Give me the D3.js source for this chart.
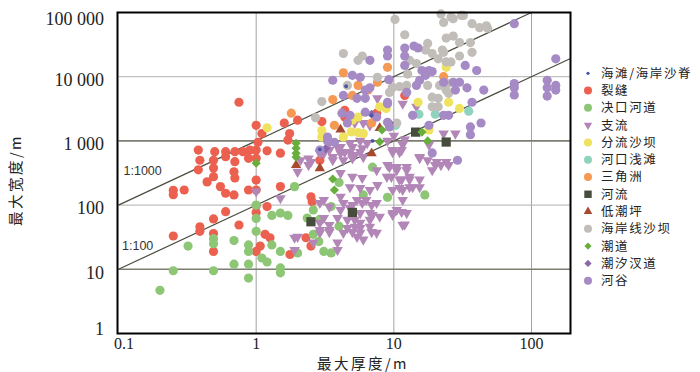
<!DOCTYPE html>
<html><head><meta charset="utf-8">
<script src="https://cdn.jsdelivr.net/npm/d3@7"></script>
<style>body{margin:0;background:#fff}svg{display:block}</style>
</head><body>
<svg id="c" width="700" height="372"></svg>
<script>
// ---------- categories & styles ----------
const categories = ["海滩/海岸沙脊","裂缝","决口河道","支流","分流沙坝","河口浅滩","三角洲","河流","低潮坪","海岸线沙坝","潮道","潮汐汊道","河谷"];
const colors = ["#4b55a6","#ec6050","#8dc776","#b386b8","#efe25e","#8fd3bf","#f59a55","#474d3d","#a8492e","#c1bdb9","#68ae3c","#8867ad","#a58ac6"];
const shapes = ["dot","circle","circle","triDown","circle","circle","circle","square","triUp","circle","diamond","diamond","circle"];

// ---------- axes ----------
const xTicks = [0.1, 1, 10, 100];
const xTickLabels = ["0.1", "1", "10", "100"];
const yTicks = [1, 10, 100, 1000, 10000, 100000];
const yTickLabels = ["1", "10", "100", "1 000", "10 000", "100 000"];
const ratios = [1000, 100];
const ratioLabels = ["1:1000", "1:100"];

// ---------- data: [maximum thickness (m), maximum width (m)] ----------
const beachRidge = [[4.5,7100],[2.9,740],[7,1000],[6.9,2500]];
const fracture = [[0.75,4000],[1,1750],[1.1,1300],[1.6,1900],[1.75,1300],[1.7,1030],[2,2100],
  [0.38,720],[0.39,500],[0.5,680],[0.49,500],[0.6,680],[0.6,566],[0.7,680],[0.8,680],[0.7,475],
  [1,720],[1.03,950],[1,535],[0.88,535],[1.2,700],[1.5,645],[0.9,720],
  [0.38,355],[0.49,380],[0.49,277],[0.69,330],[0.7,265],[0.44,230],[0.55,194],[0.6,153],[0.69,144],
  [0.25,170],[0.25,145],[0.3,172],[0.88,172],[1,245],[1,172],[1.5,194],
  [1.2,95],[0.6,79],[0.49,61],[0.39,46],[0.39,39],[0.25,33],[0.49,36],[0.49,19],[0.75,49],[1,98],[1,77],
  [1.16,35],[1.26,31],[1.07,23],[1,19],[1.76,17],[2.3,31],[2.5,23],[2.55,113],[2.5,135],
  [3,2000],[2.9,500],[12,5100],[7.5,2700],[4.4,3000],[4.4,2350]];
const crevasse = [[1,100],[1,62],[1,39],[1.3,69],[1.5,75],[1.7,69],[1.9,194],[2.35,63],[2.6,84],
  [0.32,23],[0.49,30],[0.49,25],[0.69,28],[0.88,24],[0.88,19],[1.3,24],[1.5,19],[1.1,15],[1.2,13],[2,18],
  [0.69,12],[0.88,12],[0.25,9.5],[0.49,9.5],[0.88,7.3],[1.5,10.5],[1.5,8.8],[0.2,4.7],
  [7,390],[4,225],[9,132],[16.8,144],[6,144],[3.5,95],[2.9,60],[4,47],[2.6,35],[2.85,27],[3.1,19],[3.5,18]];
const tributary = [[3.4,930],[3.9,800],[4.4,670],[5,800],[5.9,770],[5.2,600],[4.3,500],[3.6,560],[3.1,640],[2.5,470],[2,330],
  [9.8,670],[11.4,720],[15.4,540],[20.5,470],[24,470],[19,350],[9.3,390],[10.5,350],[12.4,350],[8.9,275],[11,250],[13,250],[15.4,250],
  [9.8,172],[11.6,172],[13.7,190],[11.6,120],[9.8,75],[12.4,75],[12,50],
  [4.1,315],[5,275],[5.9,265],[7.5,350],[4.8,190],[5.7,185],[6.7,172],[7.6,205],[4.1,135],[5.4,120],[6.3,120],[7.5,108],
  [3.1,120],[3.4,94],[4.1,84],[4.8,90],[5.7,75],[6.7,75],[7.9,66],[5.7,53],[6.7,46],[4.6,44],[3.4,41],[2.9,53],[2,32],[5.4,32],[7.5,37],
  [2.9,108],[4.3,108],[5,100],[5.9,108],[6.9,100],[7,70],[6.7,59],[9.8,70],[11.4,78],[10.5,84],[11.6,49],[3.4,49],[3.4,38],
  [2.9,41],[2.9,37],[4.3,37],[5,38],[5.7,37],[6,29],[6.9,38],[3.9,26],[3.9,20],[1.9,31],[5.2,59],[4.6,59],[3.9,63],[5.2,46],[5.7,44],[3.1,63],
  [1,163],[1.5,128],[1.9,20],[2.6,26],
  [9.8,6500],[7.6,4600],[11.6,3800],[14.6,3400],
  [23,1300],[28,1300],[11.6,870],[18,870],[9.8,720],[11,670],[15.4,560],[17.6,500],[20,420],[22,420],[25,420],
  [9,420],[10.5,390],[12.4,390],[9.6,275],[11.4,250],[13,275],[15.4,190],[13,190],[11,185],
  [2.4,530],[2.1,500],[2.4,420],[2.9,640],[3.4,720],[4.1,640],[4.8,670],[5.7,670],[3.6,500],[5,535],[6,560],
  [4.1,800],[4.8,920],[5.7,1000],[6.4,920],[5.2,1900],[6,1900],[6.7,1750],[10,1200],[12,1050],[9,1000]];
const mouthBar = [[1.2,1600],[3,1450],[3,1150],[4.9,1380],[6,1300],[7.9,3400],[8.8,3200],[15,4000],[18,1480],
  [5.5,2350],[4.3,1150],[5,2100],[5.5,1350],[25,4000],[30,3200],[24,14000]];
const mouthShoal = [[10.3,1750],[15.2,2600],[20,2600],[35,2900]];
const delta = [[4.3,11500],[9,14000],[7.6,8200],[5.5,7300],[6.5,6200],[5,5100],[3.6,4400],[1.8,2700],[3.7,1750],[6.9,1900],[23,10000]];
const river = [[14.4,1370],[24,960],[5,77],[2.5,55]];
const tidalFlat = [[1.95,420],[2.9,375],[4.1,1500],[6.9,640],[7.9,1580]];
const shorelineBar = [[10.2,78000],[12,45000],[22,95000],[26,85000],[31,90000],[27,80000],[37,67000],[42,58000],[47,62000],
  [24,40000],[27,43000],[30,34000],[36,34000],[17.6,33000],[17,26000],[19,23000],[22.5,26000],[23,24000],[30,21000],[37,24000],
  [21,19000],[13,18000],[14.6,16000],[12.6,11000],[5.9,21000],[5.5,18000],[4.3,23000],[7.6,9800],[9.8,6800],[11,7000],[12.4,7300],
  [9.3,5700],[4.6,7300],[3,4100],[19,4800],[21,4600],[19,3400],[21,3400],[24,6200],[23,70000],[32,90000],[48,57000],
  [24,17000],[26,17000],[2.7,2300],[17.6,7300],[21.5,7300],[24.5,7800],[25,5500],[10.5,1900]];
const tidalChannel = [[1,450],[1.95,920],[1.95,770],[1.95,640],[1.95,560],[3.6,255],[3.7,172],[7.9,970],[8.2,1480],[16,1370],[17.6,1000]];
const tidalInlet = [[6.9,2600],[3.2,760],[9.3,1900]];
const valley = [[9,26000],[9,21000],[6.7,18000],[12,28000],[12,21000],[14,30000],[15,28000],[12,15000],[16,12500],[18,12500],[19,12000],
  [17,10500],[15.4,8800],[14.6,7300],[12.4,5700],[33,15000],[40,12500],[27,8200],[30,8200],[28,6200],[34,6700],[45,6200],[37,4000],
  [23,8200],[9.2,9000],[6.7,6700],[6.2,4600],[5.4,4600],[5,10500],[5.7,9800],[3.6,8800],[4.3,5100],[9,3800],
  [75,67000],[150,19000],[75,7800],[75,6700],[75,5200],[130,8800],[130,6700],[130,5000],[150,7300],[150,6200],
  [23,2500],[25,2500],[36,1650],[36,1250],[43,1900],[29,500],
  [4.2,2700],[4.6,1900],[6.2,2800],[9.3,1650],[13.7,2500],[19,650],[2.9,720],[3.3,1150],[9,1950],[4.8,2500],
  [18,1750],[9,4000],[7.5,2350],[6.2,6200],[3.3,1000],[3.7,950]];

const series = [beachRidge, fracture, crevasse, tributary, mouthBar, mouthShoal, delta, river, tidalFlat, shorelineBar, tidalChannel, tidalInlet, valley];

// ---------- drawing ----------
const svg = d3.select("#c");
const x = d3.scaleLog().domain([0.1, 192]).range([118.5, 570.5]);
const y = d3.scaleLog().domain([1, 100000]).range([333.5, 12.5]);
const [x0, x1] = x.range(), [y0, y1] = y.range();

// grid
svg.append("g").selectAll("line").data(xTicks.slice(1)).join("line")
  .attr("x1", d => x(d)).attr("x2", d => x(d)).attr("y1", y0).attr("y2", y1)
  .attr("stroke", "#a3a3a3").attr("stroke-width", 1);
svg.append("g").selectAll("line").data(yTicks.slice(1, -1)).join("line")
  .attr("x1", x0).attr("x2", x1).attr("y1", d => y(d)).attr("y2", d => y(d))
  .attr("stroke", d => (Math.log10(d) % 2 === 1) ? "#7d7d72" : "#b0b0b0")
  .attr("stroke-width", d => (Math.log10(d) % 2 === 1) ? 1.6 : 1);

// ratio lines
const line = d3.line().x(d => x(d[0])).y(d => y(d[1]));
ratios.forEach((k, i) => {
  const tMax = Math.min(x.domain()[1], y.domain()[1] / k);
  const tMin = x.domain()[0];
  svg.append("path").attr("d", line([[tMin, k * tMin], [tMax, k * tMax]]))
    .attr("fill", "none").attr("stroke", "#4a4d3e").attr("stroke-width", 1.2);
});
svg.append("text").attr("x", x(0.1) + 5).attr("y", y(290)).text(ratioLabels[0])
  .attr("font-family", "Liberation Sans, Arial, sans-serif").attr("font-size", 12.5).attr("fill", "#333");
svg.append("text").attr("x", x(0.1) + 3.5).attr("y", y(20)).text(ratioLabels[1])
  .attr("font-family", "Liberation Sans, Arial, sans-serif").attr("font-size", 12.5).attr("fill", "#333");

// markers
function drawMarker(g, shape, color, cx, cy, legend) {
  if (shape === "circle") {
    g.append("circle").attr("cx", cx).attr("cy", cy).attr("r", (legend ? 4 : 4.6)).attr("fill", color);
  } else if (shape === "dot") {
    g.append("circle").attr("cx", cx).attr("cy", cy).attr("r", legend ? 1.6 : 1.9).attr("fill", color);
  } else if (shape === "triDown") {
    g.append("path").attr("d", d3.symbol(d3.symbolTriangle, legend ? 30 : 48)())
      .attr("transform", `translate(${cx},${cy}) rotate(180)`).attr("fill", color);
  } else if (shape === "triUp") {
    g.append("path").attr("d", d3.symbol(d3.symbolTriangle, legend ? 32 : 46)())
      .attr("transform", `translate(${cx},${cy})`).attr("fill", color);
  } else if (shape === "square") {
    g.append("path").attr("d", d3.symbol(d3.symbolSquare, legend ? 55 : 85)())
      .attr("transform", `translate(${cx},${cy})`).attr("fill", color);
  } else if (shape === "diamond") {
    g.append("path").attr("d", d3.symbol(d3.symbolSquare, legend ? 26 : 42)())
      .attr("transform", `translate(${cx},${cy}) rotate(45)`).attr("fill", color);
  }
}
const order = [1,2,3,4,5,6,7,8,9,10,11,12,0];
const pts = svg.append("g");
order.forEach(i => {
  series[i].forEach(d => drawMarker(pts, shapes[i], colors[i], x(d[0]), y(d[1]), false));
});

// frame
svg.append("rect").attr("x", x0 - 1).attr("y", y1).attr("width", x1 - x0 + 1).attr("height", y0 - y1)
  .attr("fill", "none").attr("stroke", "#000").attr("stroke-width", 2);

// y tick labels
svg.append("g").selectAll("text").data(yTicks).join("text")
  .attr("x", 104)
  .attr("y", (d, i) => y(d) + (i === yTicks.length - 1 ? 12.5 : i === 0 ? 1.5 : 9.3))
  .attr("text-anchor", "end")
  .attr("font-family", "Liberation Serif, Times New Roman, serif").attr("font-size", 18).attr("fill", "#222")
  .text((d, i) => yTickLabels[i]);
// x tick labels
svg.append("g").selectAll("text").data(xTicks).join("text")
  .attr("x", (d, i) => x(d) + (i === 0 ? 5.5 : 0))
  .attr("y", 349)
  .attr("text-anchor", "middle")
  .attr("font-family", "Liberation Serif, Times New Roman, serif").attr("font-size", 16).attr("fill", "#222")
  .text((d, i) => xTickLabels[i]);

// axis titles
svg.append("text").attr("x", 363).attr("y", 368.5).attr("text-anchor", "middle")
  .attr("font-family", "Noto Sans CJK SC, sans-serif").attr("font-size", 14.5).attr("letter-spacing", 2.5).attr("fill", "#222")
  .text("最大厚度/m");
svg.append("text").attr("transform", "translate(21,180) rotate(-90)").attr("text-anchor", "middle")
  .attr("font-family", "Noto Sans CJK SC, sans-serif").attr("font-size", 14.5).attr("letter-spacing", 2.5).attr("fill", "#222")
  .text("最大宽度/m");

// legend
const lg = svg.append("g");
categories.forEach((c, i) => {
  const cy = 73.3 + i * 17.28;
  drawMarker(lg, shapes[i], colors[i], 588, cy, true);
  lg.append("text").attr("x", 601).attr("y", cy + 4.5).text(c)
    .attr("font-family", "Noto Sans CJK SC, sans-serif").attr("font-size", 12.5).attr("letter-spacing", 1.6).attr("fill", "#222");
});
</script>
</body></html>
